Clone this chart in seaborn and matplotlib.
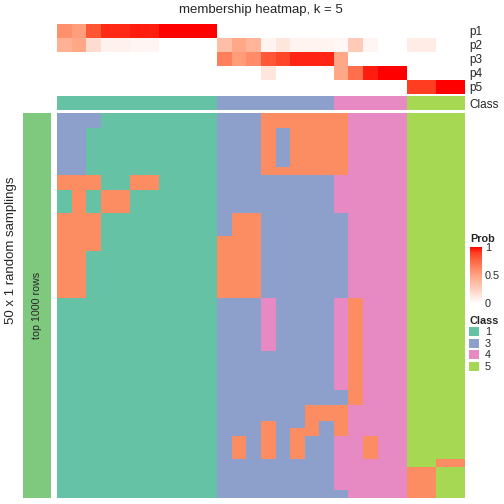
import matplotlib.pyplot as plt
import matplotlib.colors as mcolors
from matplotlib.patches import Patch
import numpy as np
import seaborn as sns

sns.set_style("white")
plt.rcParams['font.family'] = ['Liberation Sans', 'DejaVu Sans']

# membership probability of each of the 28 samples (columns) for classes p1..p5
p1 = [0.58, 0.52, 0.82, 0.93, 0.93, 0.95, 0.95, 1, 1, 1, 1,
      0, 0, 0, 0, 0, 0, 0, 0, 0, 0, 0, 0, 0, 0, 0, 0, 0]
p2 = [0.42, 0.48, 0.18, 0.07, 0.07, 0.05, 0.05, 0, 0, 0, 0,
      0.35, 0.47, 0.40, 0.06, 0.13, 0.06, 0.06, 0.06, 0.04, 0.28, 0.05, 0, 0, 0.10, 0.10, 0, 0]
p3 = [0, 0, 0, 0, 0, 0, 0, 0, 0, 0, 0,
      0.65, 0.53, 0.60, 0.81, 0.87, 0.94, 0.94, 0.94, 0.48, 0, 0, 0, 0, 0, 0, 0, 0]
p4 = [0, 0, 0, 0, 0, 0, 0, 0, 0, 0, 0,
      0, 0, 0, 0.13, 0, 0, 0, 0, 0.48, 0.72, 0.95, 1, 1, 0, 0, 0, 0]
p5 = [0, 0, 0, 0, 0, 0, 0, 0, 0, 0, 0,
      0, 0, 0, 0, 0, 0, 0, 0, 0, 0, 0, 0, 0, 0.90, 0.90, 1, 1]
prob_names = ['p1', 'p2', 'p3', 'p4', 'p5']

# consensus class of each sample
class_labels = [1, 1, 1, 1, 1, 1, 1, 1, 1, 1, 1,
                3, 3, 3, 3, 3, 3, 3, 3,
                4, 4, 4, 4, 4,
                5, 5, 5, 5]

# class of each sample (columns) in each of the 50 random samplings (rows)
samplings = [
    "3331111111133322222244445555",
    "3331111111133322222244445555",
    "3311111111133323222244445555",
    "3311111111133323222244445555",
    "3311111111133323222244445555",
    "3311111111133323222244445555",
    "3311111111133323222244445555",
    "3311111111133322222244445555",
    "2221122111133333333444445555",
    "2221122111133333333444445555",
    "1212211111133333333444445555",
    "1212211111133333333444445555",
    "1212211111133333333444445555",
    "2221111111132233333344445555",
    "2221111111132233333344445555",
    "2221111111132233333344445555",
    "2221111111122233333344445555",
    "2221111111122233333344445555",
    "2211111111122233333344445555",
    "2211111111122233333344445555",
    "2211111111122233333344445555",
    "2211111111122233333344445555",
    "2211111111122233333344445555",
    "2211111111122233333344445555",
    "1111111111133343333424445555",
    "1111111111133343333424445555",
    "1111111111133343333424445555",
    "1111111111133343333424445555",
    "1111111111133343333424445555",
    "1111111111133343333424445555",
    "1111111111133343333424445555",
    "1111111111133333333424445555",
    "1111111111133333333424445555",
    "1111111111133333333424445555",
    "1111111111133333333424445555",
    "1111111111133333333424445555",
    "1111111111133333333324445555",
    "1111111111133333333324445555",
    "1111111111133333322244445555",
    "1111111111133333322244445555",
    "1111111111133323323244445555",
    "1111111111133323223244445555",
    "1111111111132323233442445555",
    "1111111111132323233442445555",
    "1111111111132323233442445555",
    "1111111111133333333444445522",
    "1111111111133333333444442255",
    "1111111111133333333444442255",
    "1111111111133333333444442255",
    "1111111111133333333344442255",
]
legend_classes = ['1', '3', '4', '5']

probs = np.array([p1, p2, p3, p4, p5])
mat = np.array([[int(c) for c in row] for row in samplings])

set2 = sns.color_palette("Set2", 5)
class_cmap = mcolors.ListedColormap(set2)
# white -> red ramp (interpolated in LAB like the original)
prob_cmap = mcolors.LinearSegmentedColormap.from_list(
    "prob", [(0, "#FFFFFF"), (0.25, "#FFCFBE"), (0.5, "#FFA381"),
             (0.75, "#FF6846"), (0.9, "#FF3E21"), (1, "#FF0000")])

W = H = 504


def rect(x0, y0, x1, y1):
    return [x0 / W, 1 - y1 / H, (x1 - x0) / W, (y1 - y0) / H]


fig = plt.figure(figsize=(5.04, 5.04), dpi=100)
ax_top = fig.add_axes(rect(57, 24, 465, 94))
ax_cls = fig.add_axes(rect(57, 96, 465, 110))
ax_main = fig.add_axes(rect(57, 113, 465, 497.5))
ax_side = fig.add_axes(rect(23, 113, 51, 497.5))
cax = fig.add_axes(rect(470, 247, 482, 303))

# probability rows
sns.heatmap(probs, ax=ax_top, cmap=prob_cmap, vmin=0, vmax=1, cbar_ax=cax,
            xticklabels=False, yticklabels=prob_names)
ax_top.yaxis.tick_right()
ax_top.tick_params(axis='y', length=0, pad=3, labelsize=8.5, labelrotation=0)

# class row
sns.heatmap(np.array([class_labels]), ax=ax_cls, cmap=class_cmap, vmin=0.5, vmax=5.5,
            cbar=False, xticklabels=False, yticklabels=['Class'])
ax_cls.yaxis.tick_right()
ax_cls.tick_params(axis='y', length=0, pad=3, labelsize=8.5, labelrotation=0)

# main matrix of random samplings
sns.heatmap(mat, ax=ax_main, cmap=class_cmap, vmin=0.5, vmax=5.5, cbar=False,
            xticklabels=False, yticklabels=False)

# left row annotation
sns.heatmap(np.ones((1, 1)), ax=ax_side, cmap=mcolors.ListedColormap(['#7FC97F']),
            cbar=False, xticklabels=False, yticklabels=False)
ax_side.text(0.5, 0.5, 'top 1000 rows', rotation=90, ha='center', va='center',
             transform=ax_side.transAxes, fontsize=7.7)

# Prob legend
cbar = ax_top.collections[0].colorbar
cbar.set_ticks([0, 0.5, 1])
cbar.set_ticklabels(['0', '0.5', '1'])
cbar.outline.set_visible(False)
cax.tick_params(left=True, right=True, length=2.5, width=0.8, color='white',
                direction='in', labelsize=7.8, pad=2)
fig.text(470 / W, 1 - 239 / H, 'Prob', fontweight='bold', fontsize=7.8, va='center')

# Class legend
handles = [Patch(facecolor=set2[int(c) - 1], edgecolor='none') for c in legend_classes]
fig.legend(handles, legend_classes, title='Class', loc='upper left',
           bbox_to_anchor=(469 / W, 1 - 316 / H), frameon=False, fontsize=7.8,
           title_fontproperties={'weight': 'bold', 'size': 7.8},
           handlelength=0.95, handleheight=0.95, handletextpad=0.5,
           labelspacing=0.1, borderpad=0, borderaxespad=0, alignment='left')

fig.text(261 / W, 1 - 10 / H, 'membership heatmap, k = 5', ha='center', va='center',
         fontsize=9.5)
fig.text(11 / W, 1 - 250 / H, '50 x 1 random samplings', rotation=90,
         ha='center', va='center', fontsize=9.5)

fig.savefig('out.png', dpi=100)
